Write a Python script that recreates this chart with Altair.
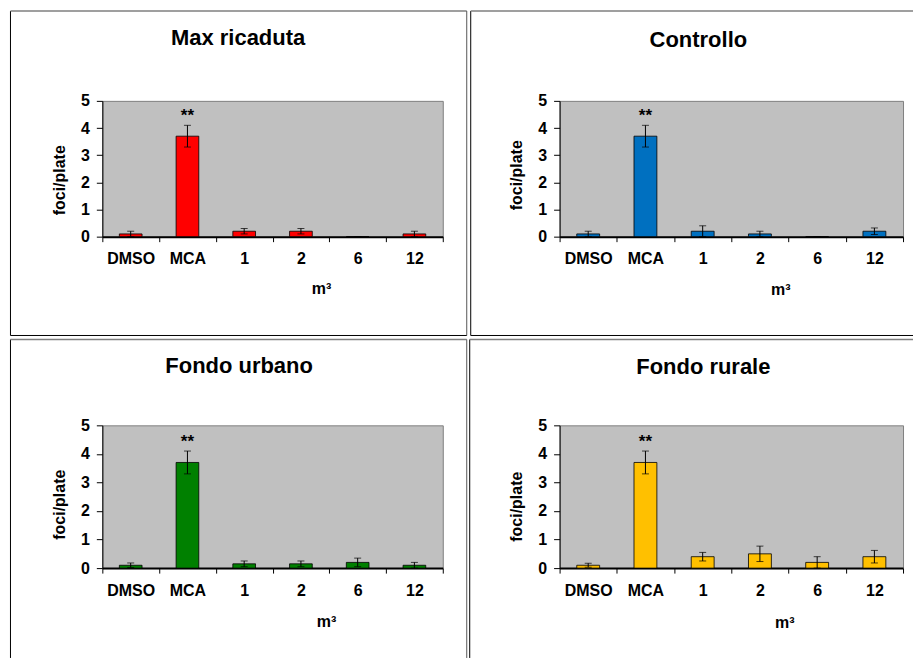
import altair as alt
import pandas as pd

FONT = "Liberation Sans"

# ---------------- data ----------------
categories = ["DMSO", "MCA", "1", "2", "6", "12"]
significance = ["", "**", "", "", "", ""]
panel_titles = ["Max ricaduta", "Controllo", "Fondo urbano", "Fondo rurale"]
bar_colors = ["#FF0000", "#0070C0", "#008000", "#FFC000"]
y_ticks = [0, 1, 2, 3, 4, 5]
x_title = "m³"
y_title = "foci/plate"

max_ricaduta = [0.1, 3.7, 0.2, 0.2, 0.0, 0.1]
max_ricaduta_err = [0.1, 0.4, 0.1, 0.1, 0.0, 0.1]
controllo = [0.1, 3.7, 0.2, 0.1, 0.0, 0.2]
controllo_err = [0.1, 0.4, 0.2, 0.1, 0.0, 0.12]
fondo_urbano = [0.1, 3.7, 0.15, 0.15, 0.2, 0.1]
fondo_urbano_err = [0.08, 0.4, 0.1, 0.1, 0.15, 0.1]
fondo_rurale = [0.1, 3.7, 0.4, 0.5, 0.2, 0.4]
fondo_rurale_err = [0.07, 0.4, 0.15, 0.27, 0.2, 0.22]

series = [
    (max_ricaduta, max_ricaduta_err),
    (controllo, controllo_err),
    (fondo_urbano, fondo_urbano_err),
    (fondo_rurale, fondo_rurale_err),
]

# ---------------- layout (pixels, relative to each plot area) ----------------
layouts = [
    dict(w=341, h=136, frame=(-92, -90, 365, 235), sides="ltrb",
         title_xy=(136, -56), ytitle=(-43, 79), xtitle=(219, 57)),
    dict(w=344, h=136, frame=(-89, -90, 354, 235), sides="ltb",
         title_xy=(139, -54), ytitle=(-43, 74), xtitle=(221, 58)),
    dict(w=341, h=143, frame=(-92, -86, 365, 233), sides="ltr",
         title_xy=(137, -52), ytitle=(-43, 79), xtitle=(224, 58)),
    dict(w=344, h=143, frame=(-90, -86, 354, 233), sides="lt",
         title_xy=(144, -51), ytitle=(-43, 81), xtitle=(225, 59)),
]

one_row = pd.DataFrame({"k": [0]})


def frame_layers(frame, sides):
    l, t, r, b = frame
    out = []
    if "l" in sides:
        out.append(alt.Chart(one_row).mark_rule(color="black", strokeWidth=1)
                   .encode(x=alt.value(l), y=alt.value(t), y2=alt.value(b)))
    if "t" in sides:
        out.append(alt.Chart(one_row).mark_rule(color="#7f7f7f", strokeWidth=1.5)
                   .encode(y=alt.value(t), x=alt.value(l), x2=alt.value(r)))
    if "r" in sides:
        out.append(alt.Chart(one_row).mark_rule(color="#555555", strokeWidth=1)
                   .encode(x=alt.value(r), y=alt.value(t), y2=alt.value(b)))
    if "b" in sides:
        out.append(alt.Chart(one_row).mark_rule(color="black", strokeWidth=1)
                   .encode(y=alt.value(b), x=alt.value(l), x2=alt.value(r)))
    return out


def make_panel(idx):
    vals, errs = series[idx]
    L = layouts[idx]
    df = pd.DataFrame({"category": categories, "value": vals,
                       "error": errs, "sig": significance})
    df["low"] = (df["value"] - df["error"]).clip(lower=0)
    df["high"] = df["value"] + df["error"]

    x_axis = alt.Axis(title=x_title, labelAngle=0, tickBand="extent", tickSize=5,
                      domainWidth=2, labelPadding=9,
                      titleX=L["xtitle"][0], titleY=L["xtitle"][1],
                      titleAlign="center", titleBaseline="alphabetic")
    y_axis = alt.Axis(title=y_title, values=y_ticks, tickSize=6, labelPadding=7,
                      titleX=L["ytitle"][0], titleY=L["ytitle"][1], titleAngle=270,
                      titleAlign="center", titleBaseline="middle")
    x_scale = alt.Scale(paddingInner=0, paddingOuter=0)
    y_scale = alt.Scale(domain=[0, 5], nice=False)

    def X():
        return alt.X("category:N", sort=categories, scale=x_scale, axis=x_axis)

    def Y(field):
        return alt.Y(f"{field}:Q", scale=y_scale, axis=y_axis)

    base = alt.Chart(df)
    bars = base.mark_bar(color=bar_colors[idx], stroke="black", strokeWidth=0.8,
                         width={"band": 0.4}).encode(x=X(), y=Y("value"))
    err = base.mark_rule(color="black", strokeWidth=1).encode(
        x=X(), y=Y("low"), y2="high:Q")
    cap_hi = base.mark_tick(color="black", size=7, thickness=1).encode(x=X(), y=Y("high"))
    cap_lo = base.mark_tick(color="black", size=7, thickness=1).encode(x=X(), y=Y("low"))
    stars = base.mark_text(font=FONT, fontSize=17, fontWeight="bold",
                           baseline="alphabetic", dy=-4, color="black").encode(
        x=X(), y=Y("high"), text="sig:N")
    title_df = pd.DataFrame({"t": [panel_titles[idx]]})
    title = alt.Chart(title_df).mark_text(
        font=FONT, fontSize=22, fontWeight="bold", align="center",
        baseline="alphabetic", color="black").encode(
        x=alt.value(L["title_xy"][0]), y=alt.value(L["title_xy"][1]), text="t:N")

    layers = [bars, err, cap_hi, cap_lo, stars, title] + frame_layers(L["frame"], L["sides"])
    return alt.layer(*layers).properties(width=L["w"], height=L["h"])


panels = [make_panel(i) for i in range(4)]

chart = alt.concat(
    *panels, columns=2, spacing={"column": 117, "row": 189},
    bounds="flush", align="each"
).properties(
    padding={"left": 8.5, "top": 8.5, "right": 0, "bottom": 0},
    background="white",
).configure_view(
    fill="#C0C0C0", stroke="#808080", strokeWidth=1
).configure_axis(
    labelFont=FONT, titleFont=FONT, labelFontWeight="bold", titleFontWeight="bold",
    labelFontSize=16, titleFontSize=16, labelColor="black", titleColor="black",
    domainColor="black", tickColor="black", grid=False
)

chart.save("out.html", embed_options={"renderer": "svg", "actions": False})
